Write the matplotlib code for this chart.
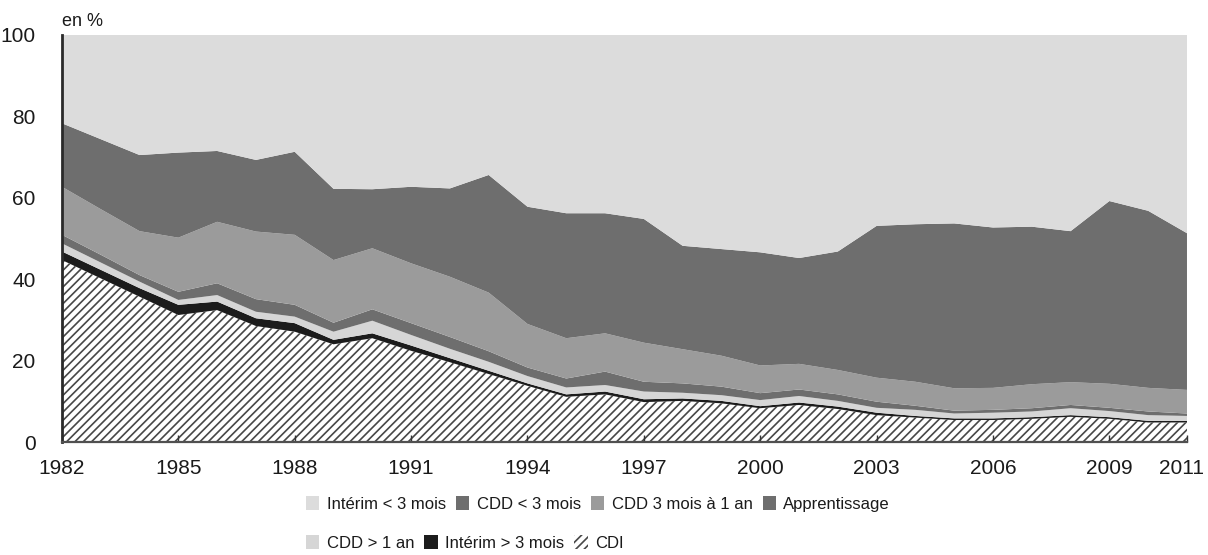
import numpy as np
import matplotlib
matplotlib.use("Agg")
import matplotlib.pyplot as plt
from matplotlib.patches import Patch
from matplotlib.transforms import ScaledTranslation

plt.rcParams['font.family'] = ['Liberation Sans', 'DejaVu Sans']
plt.rcParams['hatch.linewidth'] = 1.2

years = list(range(1982, 2012))

cdi = [44.7, 40.2, 35.7, 31.2, 32.4, 28.5, 27.1, 24.0, 25.5, 22.4,
       19.6, 16.7, 13.8, 11.1, 11.7, 9.8, 10.1, 9.5, 8.3, 9.1,
       8.1, 6.6, 6.0, 5.4, 5.4, 5.7, 6.2, 5.7, 4.8, 4.8]
interim_long = [2.1, 2.1, 2.1, 2.5, 2.1, 1.9, 2.1, 1.1, 1.2, 1.3,
                1.0, 0.8, 0.6, 0.6, 0.7, 0.7, 0.6, 0.6, 0.5, 0.6,
                0.6, 0.6, 0.4, 0.4, 0.4, 0.4, 0.4, 0.4, 0.4, 0.4]
cdd_long = [2.0, 1.8, 1.6, 1.2, 1.6, 1.6, 1.6, 2.0, 3.1, 2.6,
            2.3, 2.2, 1.8, 1.7, 1.6, 1.9, 1.4, 1.4, 1.5, 1.6,
            1.4, 1.2, 1.5, 1.2, 1.4, 1.4, 1.7, 1.5, 1.4, 1.2]
apprentissage = [2.1, 1.9, 1.6, 2.0, 2.9, 3.1, 2.9, 2.2, 2.8, 2.9,
                 2.9, 2.6, 2.1, 2.2, 3.3, 2.4, 2.3, 2.1, 1.7, 1.6,
                 1.6, 1.5, 1.0, 0.7, 0.7, 0.8, 0.8, 0.8, 0.9, 0.6]
cdd_mid = [11.8, 11.2, 10.8, 13.3, 15.1, 16.6, 17.2, 15.4, 15.0, 14.7,
           14.8, 14.4, 10.7, 9.9, 9.4, 9.6, 8.4, 7.6, 6.8, 6.3,
           6.0, 5.9, 5.9, 5.5, 5.4, 5.9, 5.6, 5.9, 5.8, 5.8]
cdd_short = [15.6, 17.2, 18.7, 20.9, 17.4, 17.6, 20.4, 17.5, 14.5, 18.8,
             21.7, 28.9, 28.8, 30.7, 29.5, 30.4, 25.4, 26.2, 27.8, 26.0,
             29.1, 37.3, 38.7, 40.5, 39.4, 38.7, 37.1, 44.9, 43.5, 38.5]
interim_short = [21.7, 25.6, 29.5, 28.9, 28.5, 30.7, 28.7, 37.8, 37.9, 37.3,
                 37.7, 34.4, 42.2, 43.8, 43.8, 45.2, 51.8, 52.6, 53.4, 54.8,
                 53.2, 46.9, 46.5, 46.3, 47.3, 47.1, 48.2, 40.8, 43.2, 48.7]

xticks = [1982, 1985, 1988, 1991, 1994, 1997, 2000, 2003, 2006, 2009, 2011]
yticks = [0, 20, 40, 60, 80, 100]

labels = ["CDI", "Intérim > 3 mois", "CDD > 1 an", "Apprentissage",
          "CDD 3 mois à 1 an", "CDD < 3 mois", "Intérim < 3 mois"]
colors = ["white", "#1c1c1c", "#d6d6d6", "#6e6e6e", "#9b9b9b", "#6e6e6e", "#dcdcdc"]
series = [cdi, interim_long, cdd_long, apprentissage, cdd_mid, cdd_short, interim_short]

fig = plt.figure(figsize=(12.08, 5.55), dpi=100)
ax = fig.add_axes([0.0513, 0.2036, 0.9313, 0.7334])

x = np.array(years)
base = np.zeros(len(years))
handles = {}
HATCH = "////"
HCOL = "#474747"
for lab, col, s in zip(labels, colors, series):
    top = base + np.array(s)
    if lab == "CDI":
        ax.fill_between(x, base, top, facecolor="white", edgecolor=HCOL,
                        hatch=HATCH, linewidth=0)
        handles[lab] = Patch(facecolor="white", edgecolor=HCOL, hatch=HATCH, linewidth=0)
    else:
        ax.fill_between(x, base, top, facecolor=col, linewidth=0)
        handles[lab] = Patch(facecolor=col, linewidth=0)
    base = top

ax.set_xlim(1982, 2011)
ax.set_ylim(0, 100)
ax.set_xticks(xticks)
ax.set_xticklabels([str(t) for t in xticks])
ax.set_yticks(yticks)
ax.set_yticklabels([str(t) for t in yticks])
ax.tick_params(axis='x', direction='in', length=5, width=1, color='#333333',
               labelsize=15, pad=12, labelcolor='#1a1a1a')
ax.tick_params(axis='y', length=0, labelsize=15, pad=19, labelcolor='#1a1a1a')
last = ax.get_xticklabels()[-1]
last.set_transform(last.get_transform() + ScaledTranslation(-5 / 100, 0, fig.dpi_scale_trans))

for sp in ['top', 'right']:
    ax.spines[sp].set_visible(False)
ax.spines['left'].set_color('#2a2a2a')
ax.spines['left'].set_linewidth(2)
ax.spines['bottom'].set_color('#505050')
ax.spines['bottom'].set_linewidth(1.6)

ax.text(0.0, 1.012, "en %", transform=ax.transAxes, ha='left', va='bottom',
        fontsize=13, color='#1a1a1a')

row1 = ["Intérim < 3 mois", "CDD < 3 mois", "CDD 3 mois à 1 an", "Apprentissage"]
row2 = ["CDD > 1 an", "Intérim > 3 mois", "CDI"]
leg_kw = dict(frameon=False, fontsize=12, handlelength=0.8, handleheight=0.85,
              handletextpad=0.45, columnspacing=0.6, borderaxespad=0, borderpad=0,
              labelcolor='#1a1a1a')
leg1 = fig.legend([handles[l] for l in row1], row1, ncol=4, loc='center left',
                  bbox_to_anchor=(306 / 1208, 1 - 504 / 555), **leg_kw)
leg2 = fig.legend([handles[l] for l in row2], row2, ncol=3, loc='center left',
                  bbox_to_anchor=(306 / 1208, 1 - 543 / 555), **leg_kw)

fig.savefig("out.png", dpi=100)
